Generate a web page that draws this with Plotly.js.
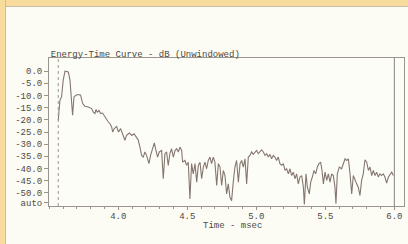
<!DOCTYPE html>
<html>
<head>
<meta charset="utf-8">
<script src="https://cdn.plot.ly/plotly-3.0.1.min.js"></script>
<style>
html,body{margin:0;padding:0;background:#fcfcf5;}
#wrap{position:relative;width:408px;height:244px;overflow:hidden;}
#chart{position:absolute;left:0;top:0;width:408px;height:244px;}
.band{position:absolute;background:#f8dc9e;pointer-events:none;}
</style>
</head>
<body>
<div id="wrap">
<div id="chart"></div>
<div class="band" style="left:0;top:0;width:408px;height:6px;border-bottom:1px solid #c9bfa6;"></div>
<div class="band" style="left:0;top:0;width:5px;height:244px;border-right:1px solid #c9bfa6;"></div>
</div>
<script>
const timeMs = [3.565,3.577,3.589,3.601,3.614,3.626,3.638,3.650,3.662,3.669,3.679,3.693,3.710,3.727,3.742,3.758,3.783,3.807,3.819,3.831,3.838,3.848,3.860,3.872,3.886,3.903,3.915,3.928,3.940,3.952,3.959,3.971,3.988,4.002,4.017,4.031,4.048,4.060,4.080,4.097,4.114,4.133,4.145,4.157,4.169,4.181,4.193,4.205,4.222,4.234,4.249,4.261,4.273,4.285,4.297,4.314,4.326,4.338,4.350,4.362,4.374,4.386,4.399,4.411,4.423,4.435,4.447,4.459,4.466,4.483,4.495,4.507,4.519,4.531,4.543,4.556,4.568,4.580,4.592,4.604,4.616,4.628,4.640,4.652,4.664,4.676,4.688,4.700,4.713,4.725,4.737,4.749,4.761,4.773,4.785,4.797,4.809,4.821,4.833,4.845,4.857,4.870,4.882,4.894,4.906,4.918,4.930,4.942,4.954,4.966,4.978,4.990,5.002,5.014,5.027,5.039,5.051,5.063,5.075,5.087,5.099,5.111,5.123,5.135,5.147,5.159,5.171,5.184,5.196,5.208,5.220,5.232,5.244,5.256,5.268,5.280,5.292,5.304,5.316,5.329,5.341,5.348,5.360,5.370,5.384,5.394,5.406,5.418,5.430,5.442,5.454,5.466,5.476,5.486,5.498,5.510,5.522,5.534,5.546,5.558,5.570,5.577,5.587,5.601,5.618,5.630,5.643,5.655,5.667,5.679,5.691,5.703,5.715,5.727,5.739,5.751,5.763,5.775,5.787,5.800,5.812,5.824,5.836,5.848,5.860,5.872,5.884,5.896,5.908,5.920,5.932,5.944,5.957,5.969,5.981,5.993];
const levelDb = [-20.2,-12.0,-10.6,-3.7,0.0,0.0,-0.3,-3.7,-12.0,-18.1,-10.6,-9.9,-9.6,-9.9,-13.3,-14.4,-14.7,-15.4,-16.8,-17.4,-15.8,-16.8,-16.1,-17.4,-17.2,-18.8,-19.5,-20.9,-21.6,-22.9,-25.0,-23.6,-22.7,-25.0,-23.6,-25.7,-28.4,-26.4,-25.4,-26.4,-25.7,-27.3,-28.4,-31.2,-34.6,-35.3,-33.2,-34.6,-38.0,-34.6,-31.2,-29.5,-32.6,-35.3,-33.2,-32.6,-44.2,-33.9,-33.2,-38.7,-33.9,-31.9,-35.3,-32.6,-31.9,-33.2,-31.2,-32.6,-37.4,-36.7,-38.7,-37.4,-52.5,-38.0,-42.2,-38.0,-45.6,-38.7,-37.4,-44.2,-39.4,-37.4,-40.1,-36.7,-35.3,-38.0,-35.3,-37.4,-47.0,-38.0,-39.4,-47.0,-40.8,-42.9,-50.4,-46.3,-51.8,-53.2,-45.6,-39.4,-36.7,-45.6,-38.0,-36.7,-39.4,-36.0,-46.3,-35.3,-34.6,-33.2,-34.2,-33.2,-32.6,-33.9,-33.2,-32.3,-33.2,-34.6,-33.9,-35.3,-34.2,-36.0,-34.6,-35.3,-36.7,-35.3,-38.0,-38.7,-38.0,-40.8,-40.1,-42.2,-40.1,-42.9,-41.5,-44.2,-42.2,-46.3,-43.5,-42.9,-47.7,-54.8,-42.2,-47.7,-50.4,-45.6,-43.5,-40.8,-42.2,-39.4,-38.0,-37.4,-40.8,-46.3,-41.5,-44.9,-42.2,-45.6,-42.2,-42.9,-47.7,-54.5,-42.2,-39.4,-40.1,-38.0,-36.0,-36.7,-36.0,-42.2,-50.4,-42.9,-44.9,-46.3,-47.7,-51.1,-44.9,-42.2,-36.4,-37.4,-40.8,-39.4,-42.9,-40.8,-42.9,-41.5,-43.5,-42.2,-42.9,-42.2,-43.5,-46.0,-43.5,-42.2,-41.5,-42.9];
const yTickVals = [0,-5,-10,-15,-20,-25,-30,-35,-40,-45,-50,-54];
const yTickText = ['0.0','-5.0','-10.0','-15.0','-20.0','-25.0','-30.0','-35.0','-40.0','-45.0','-50.0','auto'];
const xTickVals = [4.0,4.5,5.0,5.5,6.0];
const xTickText = ['4.0','4.5','5.0','5.5','6.0'];
const startCursor = 3.565;
const endCursor = 6.0;

const font = {family:'Liberation Mono, DejaVu Sans Mono, monospace', size:9, color:'#4e4944'};

Plotly.newPlot('chart', [{
  x: timeMs, y: levelDb, type:'scatter', mode:'lines',
  line:{color:'#857770', width:1.1}, hoverinfo:'skip'
}], {
  width:408, height:244,
  margin:{l:49, r:4, t:58, b:38, pad:0},
  paper_bgcolor:'#fcfcf5', plot_bgcolor:'#fdfdf7',
  showlegend:false,
  font: font,
  title:{text:'Energy-Time Curve - dB (Unwindowed)', font:font,
         xref:'paper', x:0.005, xanchor:'left', yref:'container', y:(244-53.5)/244, yanchor:'middle'},
  xaxis:{range:[3.498,6.070], tickmode:'array', tickvals:xTickVals, ticktext:xTickText,
         ticks:'outside', ticklen:3, tickcolor:'#9a948e', tickfont:font, ticklabelstandoff:-2,
         showgrid:false, zeroline:false, showline:true, linecolor:'#9a948e', linewidth:1, mirror:true,
         minor:{dtick:0.1, tick0:3.5, ticks:'outside', ticklen:2, tickcolor:'#9a948e', showgrid:false}},
  yaxis:{range:[-55.4,5.4], tickmode:'array', tickvals:yTickVals, ticktext:yTickText,
         ticks:'outside', ticklen:4, tickcolor:'#9a948e', tickfont:font,
         showgrid:false, zeroline:false, showline:true, linecolor:'#9a948e', linewidth:1, mirror:true},
  annotations:[
    {text:'Time - msec', xref:'paper', yref:'paper', x:0.518, y:-0.135, xanchor:'center', yanchor:'middle',
     showarrow:false, font:font}
  ],
  shapes:[
    {type:'line', xref:'x', yref:'paper', x0:startCursor, x1:startCursor, y0:0, y1:1,
     line:{color:'#9a948e', width:1, dash:'dot'}},
    {type:'line', xref:'x', yref:'paper', x0:endCursor, x1:endCursor, y0:0, y1:1,
     line:{color:'#8a827c', width:1}}
  ]
}, {displayModeBar:false, staticPlot:true});
</script>
</body>
</html>
